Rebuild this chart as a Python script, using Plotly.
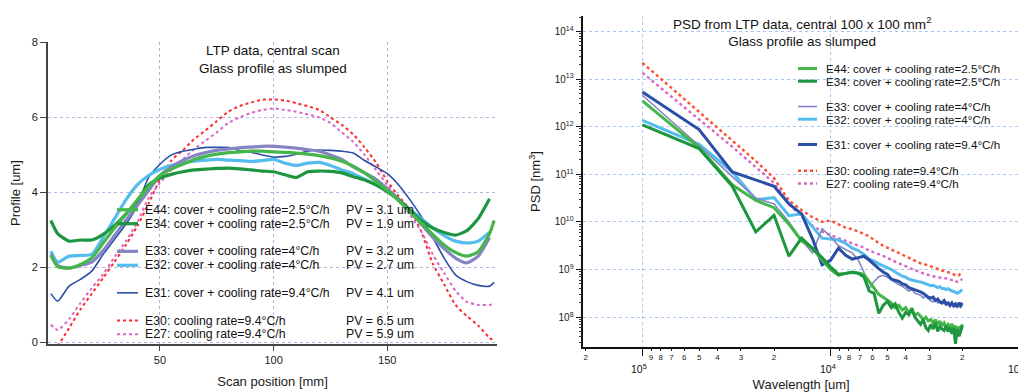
import math
import plotly.graph_objects as go

# ---------------- Left panel: LTP central scan profiles ----------------
scan_mm = [2, 5, 10, 15, 20, 25, 30, 35, 40, 45, 50, 55, 60, 65, 70, 75, 80, 85, 90, 95,
           100, 105, 110, 115, 120, 125, 130, 135, 140, 145, 150, 155, 160, 165, 170, 175,
           180, 185, 190, 195, 197]

profile_E44 = [2.32, 2.02, 1.98, 2.08, 2.25, 2.65, 3.05, 3.42, 3.80, 4.15, 4.45, 4.62, 4.75, 4.88,
               4.96, 5.02, 5.06, 5.08, 5.10, 5.10, 5.08, 5.07, 5.05, 5.02, 4.98, 4.92, 4.83, 4.70,
               4.52, 4.30, 4.05, 3.78, 3.48, 3.18, 2.88, 2.60, 2.40, 2.30, 2.42, 2.90, 3.25]
profile_E34 = [3.25, 2.90, 2.70, 2.73, 2.73, 2.88, 3.12, 3.42, 3.78, 4.20, 4.38, 4.48, 4.55, 4.60,
               4.62, 4.64, 4.65, 4.63, 4.60, 4.57, 4.55, 4.47, 4.40, 4.55, 4.57, 4.56, 4.52, 4.42,
               4.33, 4.20, 4.02, 3.80, 3.52, 3.25, 3.05, 2.93, 2.86, 2.98, 3.30, 3.83, None]
profile_E33 = [2.35, 2.05, 1.98, 2.05, 2.14, 2.45, 2.85, 3.25, 3.65, 4.05, 4.45, 4.68, 4.85, 4.98,
               5.06, 5.12, 5.16, 5.19, 5.21, 5.23, 5.23, 5.21, 5.18, 5.14, 5.10, 5.00, 4.88, 4.68,
               4.52, 4.35, 4.10, 3.82, 3.50, 3.15, 2.80, 2.50, 2.25, 2.12, 2.30, 2.80, None]
profile_E32 = [2.43, 2.14, 2.30, 2.32, 2.35, 2.80, 3.30, 3.80, 4.20, 4.45, 4.62, 4.72, 4.78, 4.83,
               4.86, 4.88, 4.86, 4.85, 4.83, 4.85, 4.88, 4.78, 4.72, 4.78, 4.80, 4.72, 4.60, 4.50,
               4.35, 4.20, 4.02, 3.80, 3.55, 3.30, 3.05, 2.85, 2.70, 2.65, 2.70, 2.94, None]
profile_E31 = [1.30, 1.10, 1.50, 1.68, 1.90, 2.35, 2.75, 3.15, 3.65, 4.40, 4.75, 5.00, 5.10, 5.15,
               5.20, 5.20, 5.20, 5.12, 5.07, 5.00, 4.94, 4.96, 5.02, 5.10, 5.13, 5.12, 5.10, 5.05,
               4.85, 4.68, 4.50, 4.20, 3.80, 3.35, 2.80, 2.25, 1.80, 1.62, 1.52, 1.50, 1.60]
profile_E30 = [None, -0.10, 0.38, 0.88, 1.30, 1.72, 2.15, 2.60, 3.10, 3.70, 4.35, 4.85, 5.12, 5.42,
               5.65, 5.90, 6.15, 6.30, 6.40, 6.47, 6.48, 6.45, 6.38, 6.30, 6.20, 6.00, 5.80, 5.55,
               5.20, 4.80, 4.30, 3.90, 3.55, 2.95, 2.10, 1.55, 1.00, 0.70, 0.45, 0.12, 0.04]
profile_E27 = [0.47, 0.33, 0.62, 1.05, 1.45, 1.82, 2.28, 2.70, 3.20, 3.85, 4.25, 4.60, 4.88, 5.15,
               5.38, 5.60, 5.85, 6.00, 6.12, 6.20, 6.24, 6.20, 6.15, 6.08, 6.00, 5.85, 5.60, 5.35,
               5.00, 4.60, 4.20, 3.80, 3.40, 2.95, 2.35, 1.85, 1.38, 1.08, 1.00, 1.00, 1.02]

# ---------------- Right panel: PSD (log10 of PSD in nm^3) ----------------
scan_length_um = 100000
harmonic = list(range(1, 51))
wavelength_um = [scan_length_um / k for k in harmonic]

logpsd_E44 = [12.54, 11.56, 10.78, 10.45, 10.30, 9.95, 9.60, 9.45, 9.20, 9.00,
              8.88, 8.92, 8.94, 8.93, 8.90, 8.75, 8.60, 8.48, 8.42, 8.35,
              8.30, 8.20, 8.25, 8.15, 8.20, 8.10, 8.12, 8.05, 8.08, 8.02,
              7.95, 8.00, 7.92, 7.95, 7.88, 7.95, 7.85, 7.92, 7.82, 7.88,
              7.80, 7.85, 7.78, 7.86, 7.75, 7.82, 7.70, 7.80, 7.75, 7.85]
logpsd_E34 = [12.04, 11.54, 10.75, 9.79, 10.14, 9.28, 9.66, 9.45, 9.25, 9.05,
              8.90, 8.92, 8.95, 8.92, 8.85, 8.55, 8.50, 8.08, 8.25, 8.33,
              8.20, 8.28, 8.10, 7.98, 8.10, 8.05, 8.19, 8.00, 7.92, 7.85,
              7.95, 7.78, 7.72, 7.85, 7.75, 7.88, 7.70, 7.80, 7.75, 7.72,
              7.82, 7.70, 7.78, 7.65, 7.78, 7.44, 7.75, 7.60, 7.70, 7.82]
logpsd_E33 = [12.66, 11.60, 10.95, 10.50, 10.38, 10.00, 9.62, 9.35, 9.86, 9.69,
              9.50, 9.42, 9.35, 9.20, 8.95, 8.60, 8.75, 8.85, 8.88, 8.84,
              8.78, 8.72, 8.68, 8.65, 8.60, 8.55, 8.58, 8.50, 8.48, 8.46,
              8.40, 8.45, 8.38, 8.35, 8.32, 8.38, 8.30, 8.33, 8.28, 8.30,
              8.25, 8.27, 8.22, 8.26, 8.22, 8.25, 8.20, 8.23, 8.20, 8.25]
logpsd_E32 = [12.13, 11.63, 11.05, 10.47, 10.51, 10.13, 10.17, 9.89, 9.66, 9.64,
              9.62, 9.55, 9.45, 9.40, 9.32, 9.22, 9.18, 9.12, 9.08, 9.04,
              9.00, 8.95, 8.90, 8.86, 8.84, 8.80, 8.78, 8.76, 8.75, 8.74,
              8.72, 8.70, 8.68, 8.66, 8.67, 8.64, 8.62, 8.64, 8.60, 8.60,
              8.58, 8.60, 8.57, 8.55, 8.54, 8.52, 8.50, 8.52, 8.55, 8.58]
logpsd_E31 = [12.73, 11.94, 11.05, 10.88, 10.75, 10.38, 10.17, 9.65, 9.10, 9.20,
              9.45, 9.30, 9.22, 9.25, 9.28, 9.20, 9.10, 9.02, 8.95, 8.90,
              8.80, 8.77, 8.75, 8.70, 8.68, 8.62, 8.60, 8.58, 8.55, 8.53,
              8.50, 8.45, 8.42, 8.40, 8.42, 8.35, 8.38, 8.32, 8.30, 8.35,
              8.28, 8.30, 8.25, 8.30, 8.24, 8.28, 8.22, 8.30, 8.25, 8.30]
logpsd_E30 = [13.34, 12.30, 11.70, 11.28, 10.92, 10.45, 10.25, 10.10, 10.00, 10.03,
              9.95, 9.88, 9.85, 9.80, 9.76, 9.70, 9.62, 9.55, 9.50, 9.46,
              9.42, 9.38, 9.35, 9.31, 9.28, 9.25, 9.22, 9.18, 9.15, 9.13,
              9.12, 9.10, 9.07, 9.05, 9.04, 9.02, 9.00, 8.99, 8.98, 8.97,
              8.96, 8.95, 8.93, 8.92, 8.90, 8.88, 8.87, 8.88, 8.93, 8.97]
logpsd_E27 = [13.13, 12.16, 11.58, 11.15, 10.82, 10.38, 10.10, 9.92, 9.80, 9.72,
              9.66, 9.60, 9.55, 9.50, 9.46, 9.40, 9.36, 9.32, 9.28, 9.25,
              9.20, 9.17, 9.13, 9.10, 9.07, 9.04, 9.01, 8.98, 8.96, 8.94,
              8.92, 8.90, 8.88, 8.87, 8.86, 8.85, 8.84, 8.83, 8.82, 8.81,
              8.82, 8.80, 8.79, 8.78, 8.79, 8.76, 8.74, 8.75, 8.78, 8.80]

# ---------------- Legend text ----------------
sample_ids = ["E44", "E34", "E33", "E32", "E31", "E30", "E27"]
sample_desc = ["cover + cooling rate=2.5°C/h", "cover + cooling rate=2.5°C/h",
               "cover + cooling rate=4°C/h", "cover + cooling rate=4°C/h",
               "cover + cooling rate=9.4°C/h", "cooling rate=9.4°C/h", "cooling rate=9.4°C/h"]
pv_text = ["PV = 3.1 um", "PV = 1.9 um", "PV = 3.2 um", "PV = 2.7 um",
           "PV = 4.1 um", "PV = 6.5 um", "PV = 5.9 um"]

# ---------------- Styles ----------------
left_style = {
    "E44": dict(color="#45b649", width=3.2, dash="solid"),
    "E34": dict(color="#1e9640", width=3.2, dash="solid"),
    "E33": dict(color="#8585c6", width=3.2, dash="solid"),
    "E32": dict(color="#55bdee", width=3.2, dash="solid"),
    "E31": dict(color="#2b4fa6", width=1.6, dash="solid"),
    "E30": dict(color="#ff2a2a", width=2.0, dash="3px,3px"),
    "E27": dict(color="#d966c4", width=2.0, dash="3px,3px"),
}
right_style = {
    "E44": dict(color="#45b649", width=3.0, dash="solid"),
    "E34": dict(color="#1e9640", width=3.0, dash="solid"),
    "E33": dict(color="#8585c6", width=1.6, dash="solid"),
    "E32": dict(color="#55bdee", width=3.0, dash="solid"),
    "E31": dict(color="#2b4fa6", width=3.0, dash="solid"),
    "E30": dict(color="#ff4d33", width=2.4, dash="3px,3px"),
    "E27": dict(color="#d966c4", width=2.4, dash="3px,3px"),
}

profiles = {"E44": profile_E44, "E34": profile_E34, "E33": profile_E33, "E32": profile_E32,
            "E31": profile_E31, "E30": profile_E30, "E27": profile_E27}
logpsd = {"E44": logpsd_E44, "E34": logpsd_E34, "E33": logpsd_E33, "E32": logpsd_E32,
          "E31": logpsd_E31, "E30": logpsd_E30, "E27": logpsd_E27}

# The page has an 8px body margin, so the figure is offset by 8px in the window.
OFF = 8
W, H = 1026 - OFF, 392 - OFF
FONT = "Liberation Sans, Arial, Helvetica, sans-serif"

def px_x(v):
    return (v - OFF) / W

def px_y(v):
    return 1 - (v - OFF) / H

fig = go.Figure()

left_order = ["E30", "E27", "E31", "E32", "E33", "E34", "E44"]
for sid in left_order:
    st = left_style[sid]
    fig.add_trace(go.Scatter(
        x=scan_mm, y=profiles[sid], mode="lines", name=sid, showlegend=False,
        line=dict(color=st["color"], width=st["width"], dash=st["dash"], shape="spline", smoothing=0.6),
        xaxis="x", yaxis="y", connectgaps=False))

right_order = ["E30", "E27", "E32", "E33", "E31", "E44", "E34"]
for sid in right_order:
    st = right_style[sid]
    fig.add_trace(go.Scatter(
        x=wavelength_um, y=[10 ** v for v in logpsd[sid]], mode="lines", name=sid,
        showlegend=False,
        line=dict(color=st["color"], width=st["width"], dash=st["dash"]),
        xaxis="x2", yaxis="y2"))

# ---------------- Axes ----------------
left_dom_x = [px_x(47.7), px_x(497.3)]
left_dom_y = [px_y(346.7), px_y(37)]
right_dom_x = [px_x(583.3), px_x(1019)]
right_dom_y = [px_y(350), px_y(10)]

grid_left = "#b4b4e0"
grid_right = "#a9c8f2"

x_right_digits = [2e5, 9e4, 8e4, 7e4, 6e4, 5e4, 4e4, 3e4, 2e4,
                  9e3, 8e3, 7e3, 6e3, 5e3, 4e3, 3e3, 2e3]
x_right_digit_text = ["2", "9", "8", "7", "6", "5", "4", "3", "2",
                      "9", "8", "7", "6", "5", "4", "3", "2"]
decades_x = [1e5, 1e4, 1e3]
decade_x_text = ["10<sup>5</sup>", "10<sup>4</sup>", "10<sup>3</sup>"]
decades_y = [1e8, 1e9, 1e10, 1e11, 1e12, 1e13, 1e14]
decade_y_text = ["10<sup>8</sup>", "10<sup>9</sup>", "10<sup>10</sup>", "10<sup>11</sup>",
                 "10<sup>12</sup>", "10<sup>13</sup>", "10<sup>14</sup>"]
y_minor = [m * d for d in [1e7, 1e8, 1e9, 1e10, 1e11, 1e12, 1e13, 1e14] for m in range(2, 10)]

fig.update_layout(
    width=W, height=H, margin=dict(l=0, r=0, t=0, b=0),
    paper_bgcolor="white", plot_bgcolor="white",
    font=dict(family=FONT, color="#1a1a1a", size=12),
    xaxis=dict(domain=left_dom_x, range=[0.6, 198.4], anchor="y",
               tickvals=[50, 100, 150], ticks="outside", ticklen=5, tickcolor="#444",
               showline=True, linecolor="#444", linewidth=1.5, mirror=False,
               showgrid=True, gridcolor=grid_left, griddash="dot", gridwidth=1,
               zeroline=False, tickfont=dict(size=11),
               title=dict(text="Scan position [mm]", font=dict(size=13), standoff=12)),
    yaxis=dict(domain=left_dom_y, range=[-0.04, 8.005], anchor="x",
               tickvals=[0, 2, 4, 6, 8], ticks="outside", ticklen=6, tickcolor="#444",
               showline=True, linecolor="#444", linewidth=1.5,
               showgrid=True, gridcolor=grid_left, griddash="dot", gridwidth=1,
               zeroline=False, tickfont=dict(size=11),
               title=dict(text="Profile [um]", font=dict(size=13), standoff=9)),
    xaxis2=dict(domain=right_dom_x, type="log", range=[5.314, 3.0], anchor="y2",
                tickvals=x_right_digits, ticktext=x_right_digit_text,
                ticks="outside", ticklen=2, tickcolor="#222", tickfont=dict(size=8),
                showline=True, linecolor="#111", linewidth=1.5,
                showgrid=False, zeroline=False,
                minor=dict(tickvals=decades_x, ticks="outside", ticklen=7, tickcolor="#111",
                           showgrid=True, gridcolor=grid_right, griddash="dot", gridwidth=1),
                title=dict(text="Wavelength [um]", font=dict(size=13), standoff=18)),
    yaxis2=dict(domain=right_dom_y, type="log", range=[7.372, 14.325], anchor="x2",
                tickvals=decades_y, ticktext=decade_y_text,
                ticks="outside", ticklen=6, tickcolor="#111", tickfont=dict(size=10),
                showline=True, linecolor="#111", linewidth=1.5,
                showgrid=True, gridcolor=grid_right, griddash="dot", gridwidth=1,
                zeroline=False,
                minor=dict(tickvals=y_minor, ticks="outside", ticklen=3, tickcolor="#333",
                           showgrid=False),
                title=dict(text="PSD [nm<sup>3</sup>]", font=dict(size=13), standoff=11)),
)

annotations = []
shapes = []

# Titles
annotations.append(dict(text="LTP data, central scan<br>Glass profile as slumped",
                        x=px_x(273), y=px_y(36), xref="paper", yref="paper",
                        xanchor="center", yanchor="top", showarrow=False,
                        font=dict(size=13.5, color="#111")))
annotations.append(dict(text="PSD from LTP data, central 100 x 100 mm<sup>2</sup><br>Glass profile as slumped",
                        x=px_x(802), y=px_y(6), xref="paper", yref="paper",
                        xanchor="center", yanchor="top", showarrow=False,
                        font=dict(size=13.5, color="#111")))

# Decade labels on the reversed log wavelength axis
for v, t in zip(decades_x, decade_x_text):
    annotations.append(dict(text=t, x=math.log10(v), y=px_y(372), xref="x2", yref="paper",
                            xanchor="center", yanchor="middle", showarrow=False, xshift=-3,
                            font=dict(size=10.5, color="#111")))

# Left legend (white box, line samples, labels, PV column)
shapes.append(dict(type="rect", xref="paper", yref="paper", layer="between",
                   x0=px_x(114), x1=px_x(418), y0=px_y(344), y1=px_y(201),
                   fillcolor="white", line=dict(width=0)))
left_rows = [209, 223.3, 251.7, 266, 294.3, 322.7, 336.7]
for sid, desc, pv, row in zip(sample_ids, sample_desc, pv_text, left_rows):
    st = left_style[sid]
    shapes.append(dict(type="line", xref="paper", yref="paper", layer="above",
                       x0=px_x(117), x1=px_x(138), y0=px_y(row), y1=px_y(row),
                       line=dict(color=st["color"], width=st["width"], dash=st["dash"])))
    annotations.append(dict(text=f"{sid}: {desc}", x=px_x(143), y=px_y(row),
                            xref="paper", yref="paper", xanchor="left", yanchor="middle",
                            showarrow=False, font=dict(size=12.3, color="#111")))
    annotations.append(dict(text=pv, x=px_x(344), y=px_y(row),
                            xref="paper", yref="paper", xanchor="left", yanchor="middle",
                            showarrow=False, font=dict(size=12.3, color="#111")))

# Right legend
shapes.append(dict(type="rect", xref="paper", yref="paper", layer="between",
                   x0=px_x(795), x1=px_x(1012), y0=px_y(192), y1=px_y(53),
                   fillcolor="white", line=dict(width=0)))
right_rows = [64, 77, 103, 116, 142, 169, 182]
for sid, desc, row in zip(sample_ids, sample_desc, right_rows):
    st = right_style[sid]
    shapes.append(dict(type="line", xref="paper", yref="paper", layer="above",
                       x0=px_x(798), x1=px_x(817), y0=px_y(row), y1=px_y(row),
                       line=dict(color=st["color"], width=st["width"], dash=st["dash"])))
    annotations.append(dict(text=f"{sid}: {desc}", x=px_x(824), y=px_y(row),
                            xref="paper", yref="paper", xanchor="left", yanchor="middle",
                            showarrow=False, font=dict(size=11.6, color="#111")))

fig.update_layout(annotations=annotations, shapes=shapes)
fig.write_html("out.html")
